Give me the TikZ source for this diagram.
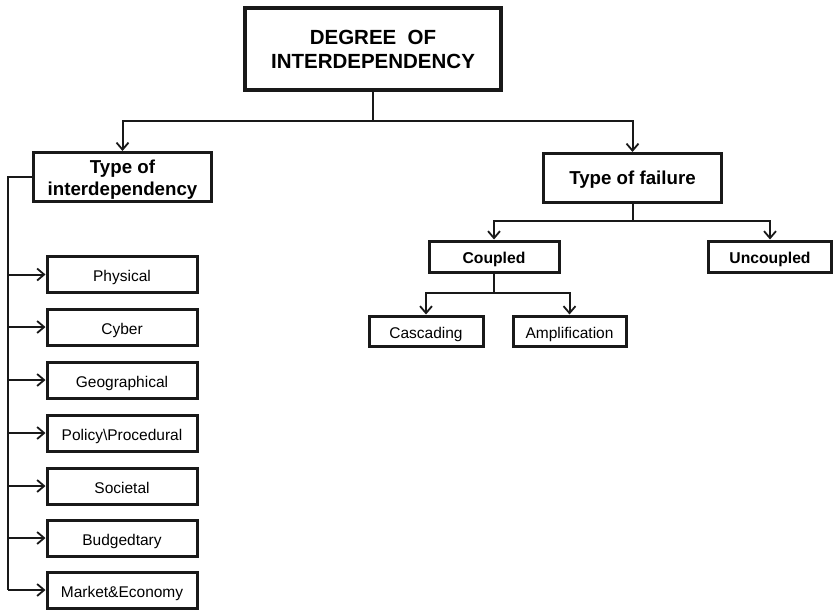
\documentclass[tikz,border=0pt]{standalone}
\usepackage{fontspec}
\setmainfont{Liberation Sans}
\usetikzlibrary{arrows.meta}
\begin{document}
\begin{tikzpicture}[x=1pt,y=-1pt,
  box/.style={draw=black!90, line width=3pt, fill=white, inner sep=0pt},
  rootbox/.style={box, align=center, line width=3.6pt, minimum width=256pt,
    minimum height=82pt, font=\bfseries\fontsize{20.5}{24}\selectfont},
  headbox/.style={box, minimum width=178pt, minimum height=49pt,
    font=\bfseries\fontsize{18.7}{22}\selectfont},
  oneline/.style={text height=#1, text depth=0pt},
  midbox/.style={box, minimum height=31pt, oneline=13pt,
    font=\bfseries\fontsize{15.7}{18}\selectfont},
  leafbox/.style={box, minimum height=33pt, oneline=14pt,
    font=\fontsize{15.5}{18}\selectfont},
  link/.style={draw=black!90, line width=2pt},
  arr/.style={link, -{Straight Barb[length=7pt,width=12pt,line width=1.8pt]}}
]
\useasboundingbox (0,0) rectangle (834,610);

% top of the hierarchy
\node[rootbox] (root) at (373,49) {DEGREE\ \ OF\\INTERDEPENDENCY};

% second level
\node[headbox, align=center, text height=38pt, text depth=2pt] (kind) at (122.5,177)
  {Type of\\interdependency};
\node[headbox, oneline=13.5pt] (fail) at (632.5,178) {Type of failure};

% failure branch
\node[midbox, minimum width=130pt] (cpl) at (494,256.5) {Coupled};
\node[midbox, minimum width=123pt] (ucpl) at (770,256.5) {Uncoupled};
\node[leafbox, minimum width=114pt, minimum height=30pt] (casc) at (426,331) {Cascading};
\node[leafbox, minimum width=113pt, minimum height=30pt] (ampl) at (569.5,331) {Amplification};

% interdependency categories
\foreach \n/\y/\t in {l1/274.5/Physical, l2/327/Cyber, l3/380/Geographical,
    l4/433/Policy\textbackslash Procedural, l5/486/Societal, l6/538/Budgedtary,
    l7/590/Market\&Economy}
  \node[leafbox, minimum width=150pt, minimum height=36pt] (\n) at (122,\y) {\t};

% bus lines
\coordinate (busA) at (0,121);
\coordinate (busB) at (0,221);
\coordinate (busC) at (0,293);
\coordinate (spine) at (8,0);

\draw[link] (root.south) -- (root.south |- busA);
\draw[arr] (root.south |- busA) -| (kind.north);
\draw[arr] (root.south |- busA) -| (fail.north);

\draw[link] (fail.south) -- (fail.south |- busB);
\draw[arr] (fail.south |- busB) -| (cpl.north);
\draw[arr] (fail.south |- busB) -| (ucpl.north);

\draw[link] (cpl.south) -- (cpl.south |- busC);
\draw[arr] (cpl.south |- busC) -| (casc.north);
\draw[arr] (cpl.south |- busC) -| (ampl.north);

\draw[link] (kind.west) -| (spine |- l7.west);
\foreach \n in {l1,l2,l3,l4,l5,l6,l7}
  \draw[arr] (spine |- \n.west) -- (\n.west);
\end{tikzpicture}
\end{document}
